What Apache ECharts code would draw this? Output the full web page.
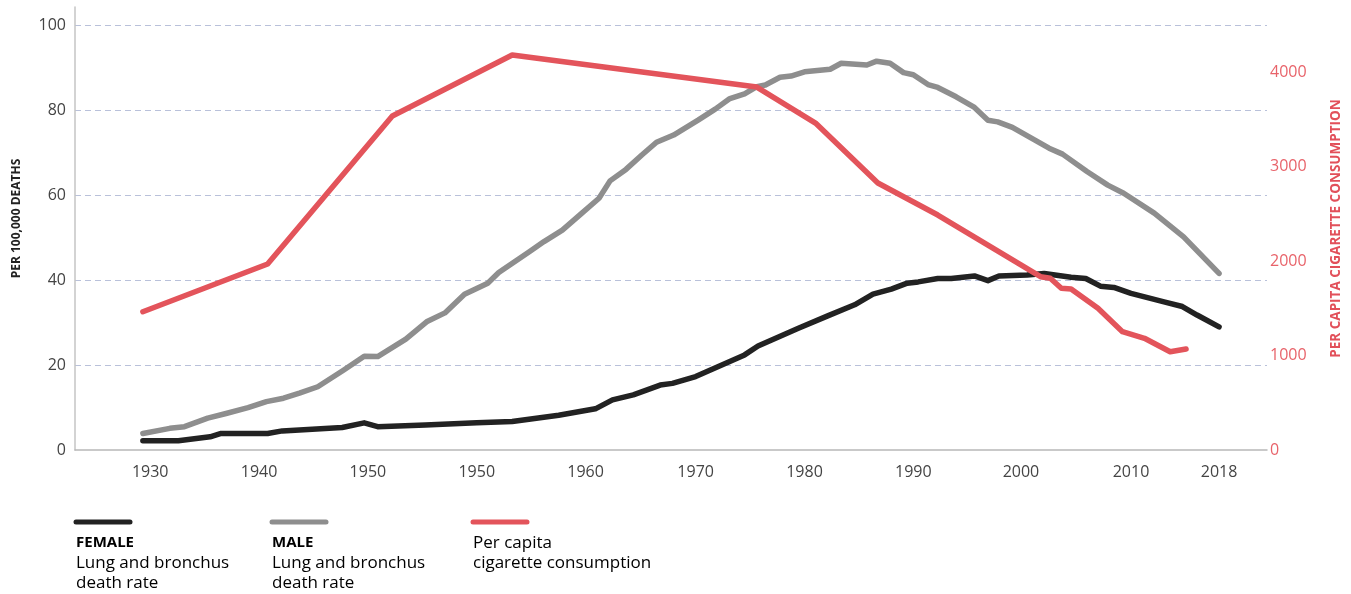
<!DOCTYPE html>
<html>
<head>
<meta charset="utf-8">
<script src="https://cdn.jsdelivr.net/npm/echarts@6/dist/echarts.min.js"></script>
<style>
  html, body { margin: 0; padding: 0; background: #fff; }
  #chart { width: 1351px; height: 594px; }
</style>
</head>
<body>
<div id="chart"></div>
<script>
// x axis labels as printed on the chart (label text and where it sits, in years)
const xLabelText = ['1930', '1940', '1950', '1950', '1960', '1970', '1980', '1990', '2000', '2010', '2018'];
const xLabelAt = [1930.6, 1939.5, 1948.4, 1957.3, 1966.2, 1975.2, 1984.1, 1993.0, 2001.8, 2010.8, 2018.0];

// female lung and bronchus death rate, per 100,000
const femaleRate = [
  [1930, 2.2], [1932.9, 2.2], [1935.5, 3.1], [1936.4, 3.9], [1940.2, 3.9], [1941.4, 4.5],
  [1946.3, 5.3], [1948.1, 6.4], [1949.2, 5.5], [1953.1, 5.9], [1957.3, 6.4], [1960.2, 6.7],
  [1964.0, 8.2], [1967.0, 9.7], [1968.4, 11.8], [1970.1, 13.0], [1972.3, 15.3], [1973.3, 15.7],
  [1975.2, 17.3], [1979.2, 22.4], [1980.3, 24.5], [1983.6, 28.7], [1986.0, 31.6], [1988.2, 34.2],
  [1989.7, 36.7], [1991.2, 37.9], [1992.5, 39.3], [1993.4, 39.6], [1995.0, 40.4], [1996.1, 40.4],
  [1998.0, 41.0], [1999.1, 39.9], [2000.0, 41.0], [2002.3, 41.2], [2003.7, 41.6], [2005.9, 40.7],
  [2007.1, 40.4], [2008.3, 38.6], [2009.4, 38.3], [2010.8, 36.9], [2013.5, 34.9], [2015.0, 33.8],
  [2016.2, 31.8], [2018.0, 29.0]
];

// male lung and bronchus death rate, per 100,000
const maleRate = [
  [1930, 3.9], [1932.2, 5.1], [1933.4, 5.5], [1935.3, 7.5], [1936.8, 8.6], [1938.6, 10.0],
  [1940.1, 11.4], [1941.5, 12.2], [1942.8, 13.4], [1944.3, 14.9], [1946.4, 18.8], [1948.1, 22.1],
  [1949.2, 22.0], [1951.5, 26.1], [1953.2, 30.2], [1954.7, 32.3], [1956.3, 36.7], [1958.2, 39.3],
  [1959.1, 41.8], [1961.6, 46.7], [1962.8, 49.1], [1964.3, 51.8], [1965.9, 55.8], [1967.3, 59.3],
  [1968.2, 63.4], [1969.5, 66.1], [1970.8, 69.5], [1972.0, 72.5], [1973.4, 74.2], [1975.4, 77.7],
  [1976.8, 80.3], [1978.0, 82.8], [1979.2, 83.9], [1980.2, 85.6], [1980.9, 86.0], [1982.1, 87.8],
  [1983.0, 88.1], [1984.1, 89.1], [1986.2, 89.7], [1987.1, 91.1], [1989.2, 90.7], [1990.0, 91.6],
  [1991.1, 91.1], [1992.2, 88.9], [1993.0, 88.4], [1994.2, 86.1], [1995.0, 85.4], [1996.5, 83.2],
  [1998.0, 80.7], [1999.1, 77.7], [1999.9, 77.3], [2001.1, 76.0], [2004.1, 71.1], [2005.2, 69.7],
  [2007.2, 65.6], [2008.9, 62.4], [2010.2, 60.5], [2012.7, 55.8], [2015.1, 50.2], [2018.0, 41.6]
];

// per capita cigarette consumption
const cigarettes = [
  [1930, 1464], [1940.2, 1969], [1950.4, 3536], [1960.2, 4182], [1980.2, 3843], [1985.0, 3462],
  [1990.1, 2827], [1995.0, 2488], [2003.4, 1835], [2004.2, 1818], [2005.1, 1712], [2005.9, 1705],
  [2008.1, 1500], [2010.1, 1253], [2011.9, 1183], [2014.0, 1041], [2015.3, 1069]
];

const BLACK = '#222222';
const GREY = '#8e8e8e';
const RED = '#e3545b';
const FONT = '"Open Sans", "DejaVu Sans", sans-serif';

const chart = echarts.init(document.getElementById('chart'), null, { renderer: 'canvas' });

function legendItem(x, color, title, titleColor, lines, textColor) {
  const rich = {
    b: { fontFamily: FONT, fontWeight: 'bold', fontSize: 15, color: titleColor, lineHeight: 20 },
    n: { fontFamily: FONT, fontSize: 17, color: textColor, lineHeight: 20 }
  };
  const txt = (title ? ['{b|' + title + '}'] : []).concat(lines.map(l => '{n|' + l + '}')).join('\n');
  return [
    { type: 'line', shape: { x1: x, y1: 522, x2: x + 54, y2: 522 },
      style: { stroke: color, lineWidth: 5, lineCap: 'round' } },
    { type: 'text', x: x, y: 533, style: { text: txt, rich: rich } }
  ];
}

const option = {
  animation: false,
  backgroundColor: '#fff',
  textStyle: { fontFamily: FONT },
  grid: { left: 75, right: 81, top: 7, bottom: 144, containLabel: false },
  xAxis: {
    type: 'value',
    min: 1924.45,
    max: 2021.92,
    axisLine: { show: true, lineStyle: { color: '#b8b8b8', width: 1.5 } },
    axisTick: { show: false },
    splitLine: { show: false },
    axisLabel: {
      customValues: xLabelAt,
      margin: 14,
      fontSize: 16,
      color: '#444',
      formatter: function (v) {
        for (let i = 0; i < xLabelAt.length; i++) {
          if (Math.abs(xLabelAt[i] - v) < 0.01) return xLabelText[i];
        }
        return '';
      }
    }
  },
  yAxis: [
    {
      type: 'value',
      min: 0,
      max: 104.36,
      interval: 20,
      name: 'PER 100,000 DEATHS',
      nameLocation: 'middle',
      nameRotate: 90,
      nameGap: 52,
      nameTextStyle: { fontSize: 12, fontWeight: 'bold', color: '#222', padding: [0, 0, 0, 20] },
      axisLine: { show: true, lineStyle: { color: '#c4c4c4', width: 1.5 } },
      axisTick: { show: false },
      axisLabel: { showMaxLabel: false, margin: 9, fontSize: 16, color: '#444' },
      splitLine: {
        show: true, showMinLine: false, showMaxLine: false,
        lineStyle: { color: '#b9c1da', type: [6, 4], width: 1 }
      }
    },
    {
      type: 'value',
      min: 0,
      max: 4691,
      interval: 1000,
      position: 'right',
      name: 'PER CAPITA CIGARETTE CONSUMPTION',
      nameLocation: 'middle',
      nameRotate: 90,
      nameGap: 62,
      nameTextStyle: { fontSize: 13.5, fontWeight: 'bold', color: '#e2505a' },
      axisLine: { show: false },
      axisTick: { show: false },
      axisLabel: {
        showMaxLabel: false, margin: 3, fontSize: 16, color: '#e8636a',
        formatter: function (v) { return String(v); }
      },
      splitLine: { show: false }
    }
  ],
  series: [
    {
      name: 'MALE', type: 'line', data: maleRate, yAxisIndex: 0,
      symbol: 'none', lineStyle: { color: GREY, width: 5.5, cap: 'round', join: 'round' }
    },
    {
      name: 'FEMALE', type: 'line', data: femaleRate, yAxisIndex: 0,
      symbol: 'none', lineStyle: { color: BLACK, width: 5.5, cap: 'round', join: 'round' }
    },
    {
      name: 'Per capita cigarette consumption', type: 'line', data: cigarettes, yAxisIndex: 1,
      symbol: 'none', lineStyle: { color: RED, width: 5.5, cap: 'round', join: 'round' }
    }
  ],
  graphic: [].concat(
    legendItem(76, BLACK, 'FEMALE', '#1a1a1a', ['Lung and bronchus', 'death rate'], '#333'),
    legendItem(272, GREY, 'MALE', '#999', ['Lung and bronchus', 'death rate'], '#333'),
    legendItem(473, RED, '', RED, ['Per capita', 'cigarette consumption'], RED)
  )
};

chart.setOption(option);
</script>
</body>
</html>
